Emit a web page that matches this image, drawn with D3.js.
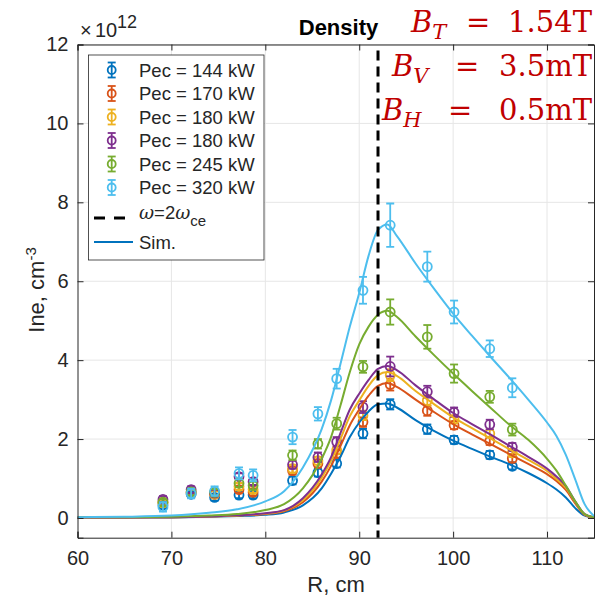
<!DOCTYPE html>
<html>
<head>
<meta charset="utf-8">
<script src="https://cdnjs.cloudflare.com/ajax/libs/d3/7.8.5/d3.min.js"></script>
<style>
  body { margin: 0; background: #fff; }
  svg { display: block; font-family: "Liberation Sans", Arial, sans-serif; }
</style>
</head>
<body>
<div id="chart"></div>
<script>
// measured points (R, cm)
var R_meas = [69.1, 72.1, 74.6, 77.2, 78.7, 82.9, 85.6, 87.6, 90.4, 93.3, 97.25, 100.1, 103.9, 106.3];

var labels = ["Pec = 144 kW", "Pec = 170 kW", "Pec = 180 kW", "Pec = 180 kW", "Pec = 245 kW", "Pec = 320 kW"];
var colors = ["#0072BD", "#D95319", "#EDB120", "#7E2F8E", "#77AC30", "#4DBEEE"];

var ne144 = [0.33, 0.60, 0.52, 0.58, 0.58, 0.95, 1.15, 1.38, 2.14, 2.88, 2.25, 1.98, 1.60, 1.31];
var ne170 = [0.40, 0.65, 0.60, 0.72, 0.65, 1.20, 1.38, 1.63, 2.43, 3.38, 2.72, 2.35, 1.95, 1.51];
var ne180a = [0.38, 0.63, 0.60, 0.80, 0.72, 1.25, 1.45, 1.72, 2.60, 3.62, 2.98, 2.50, 2.14, 1.65];
var ne180b = [0.47, 0.72, 0.63, 1.05, 0.92, 1.35, 1.54, 1.93, 2.81, 3.84, 3.20, 2.68, 2.37, 1.80];
var ne245 = [0.40, 0.66, 0.65, 0.88, 0.82, 1.59, 1.88, 2.39, 3.83, 5.22, 4.59, 3.66, 3.07, 2.24];
var ne320 = [0.28, 0.62, 0.68, 1.13, 1.08, 2.05, 2.64, 3.53, 5.77, 7.42, 6.37, 5.22, 4.29, 3.30];

var err144 = [0.08, 0.08, 0.08, 0.08, 0.08, 0.10, 0.10, 0.10, 0.12, 0.13, 0.12, 0.10, 0.10, 0.08];
var err170 = [0.08, 0.08, 0.08, 0.08, 0.08, 0.10, 0.10, 0.10, 0.12, 0.15, 0.13, 0.10, 0.10, 0.10];
var err180a = [0.08, 0.08, 0.08, 0.08, 0.08, 0.10, 0.10, 0.10, 0.12, 0.15, 0.13, 0.10, 0.10, 0.10];
var err180b = [0.08, 0.08, 0.08, 0.08, 0.08, 0.10, 0.12, 0.12, 0.15, 0.25, 0.15, 0.12, 0.12, 0.10];
var err245 = [0.08, 0.08, 0.08, 0.10, 0.10, 0.12, 0.12, 0.15, 0.15, 0.32, 0.30, 0.23, 0.15, 0.15];
var err320 = [0.12, 0.12, 0.12, 0.15, 0.15, 0.18, 0.17, 0.25, 0.34, 0.55, 0.38, 0.29, 0.21, 0.24];

// simulated profiles
var R_sim = [60, 65, 70, 74, 77, 80, 82, 84, 86, 87, 88, 89, 90, 91, 92, 93, 94, 96, 98, 100, 102, 104, 106, 108, 110, 111, 112, 113, 114, 115];
var sim144 = [0.01, 0.01, 0.015, 0.03, 0.05, 0.08, 0.14, 0.32, 0.75, 1.12, 1.55, 2.05, 2.42, 2.70, 2.88, 2.90, 2.80, 2.48, 2.20, 1.96, 1.75, 1.55, 1.36, 1.14, 0.88, 0.72, 0.52, 0.25, 0.06, 0.01];
var sim170 = [0.01, 0.015, 0.02, 0.035, 0.06, 0.10, 0.17, 0.40, 0.92, 1.32, 1.82, 2.35, 2.75, 3.10, 3.35, 3.42, 3.32, 3.00, 2.68, 2.38, 2.12, 1.87, 1.62, 1.37, 1.11, 0.94, 0.71, 0.37, 0.08, 0.01];
var sim180a = [0.01, 0.015, 0.02, 0.04, 0.065, 0.11, 0.19, 0.45, 1.02, 1.45, 2.00, 2.58, 2.98, 3.35, 3.62, 3.70, 3.60, 3.22, 2.88, 2.55, 2.28, 2.01, 1.74, 1.47, 1.19, 0.99, 0.77, 0.40, 0.09, 0.01];
var sim180b = [0.01, 0.015, 0.02, 0.04, 0.07, 0.12, 0.20, 0.50, 1.10, 1.54, 2.15, 2.75, 3.15, 3.50, 3.78, 3.85, 3.75, 3.36, 3.00, 2.66, 2.38, 2.11, 1.83, 1.55, 1.25, 1.05, 0.81, 0.42, 0.10, 0.02];
var sim245 = [0.02, 0.02, 0.03, 0.06, 0.10, 0.20, 0.35, 0.75, 1.50, 2.05, 2.85, 3.70, 4.40, 4.85, 5.15, 5.25, 5.10, 4.60, 4.12, 3.66, 3.22, 2.79, 2.36, 1.98, 1.50, 1.20, 0.82, 0.42, 0.10, 0.02];
var sim320 = [0.02, 0.03, 0.06, 0.13, 0.22, 0.42, 0.68, 1.28, 2.25, 2.98, 3.90, 4.85, 5.70, 6.65, 7.30, 7.44, 7.15, 6.45, 5.80, 5.18, 4.62, 4.08, 3.55, 3.00, 2.42, 2.08, 1.60, 0.98, 0.35, 0.05];

var R_res = 92; // omega = 2 omega_ce
var xTicks = [60, 70, 80, 90, 100, 110];
var yTicks = [0, 2, 4, 6, 8, 10, 12];

var meas = [ne144, ne170, ne180a, ne180b, ne245, ne320];
var errs = [err144, err170, err180a, err180b, err245, err320];
var sims = [sim144, sim170, sim180a, sim180b, sim245, sim320];

var W = 596, H = 598;
var ink = "#262626", red = "#C00000";
var serif = "'DejaVu Serif', 'Liberation Serif', serif";
var svg = d3.select("#chart").append("svg").attr("width", W).attr("height", H);

var x = d3.scaleLinear().domain([60, 115]).range([77.5, 594]);
var y = d3.scaleLinear().domain([-0.5, 12]).range([537.7, 44.5]);

// grid
var grid = svg.append("g").attr("stroke", "#e6e6e6").attr("stroke-width", 1);
grid.selectAll("line.gx").data(xTicks.slice(1)).enter().append("line")
  .attr("x1", d => x(d)).attr("x2", d => x(d)).attr("y1", y(-0.5)).attr("y2", y(12));
grid.selectAll("line.gy").data(yTicks).enter().append("line")
  .attr("y1", d => y(d)).attr("y2", d => y(d)).attr("x1", x(60)).attr("x2", x(115));

// clip
svg.append("clipPath").attr("id", "clip").append("rect")
  .attr("x", x(60)).attr("y", y(12)).attr("width", x(115) - x(60)).attr("height", y(-0.5) - y(12));
var plot = svg.append("g").attr("clip-path", "url(#clip)");

// error bars + markers
meas.forEach(function (vals, s) {
  var g = plot.append("g").attr("stroke", colors[s]).attr("stroke-width", 1.8).attr("fill", "none");
  vals.forEach(function (v, i) {
    var cx = x(R_meas[i]), e = errs[s][i];
    g.append("line").attr("x1", cx).attr("x2", cx).attr("y1", y(v - e)).attr("y2", y(v + e));
    g.append("line").attr("x1", cx - 4).attr("x2", cx + 4).attr("y1", y(v - e)).attr("y2", y(v - e));
    g.append("line").attr("x1", cx - 4).attr("x2", cx + 4).attr("y1", y(v + e)).attr("y2", y(v + e));
    g.append("circle").attr("cx", cx).attr("cy", y(v)).attr("r", 4.5);
  });
});

// simulation curves
var line = d3.line().x((d, i) => x(R_sim[i])).y(d => y(d)).curve(d3.curveMonotoneX);
sims.forEach(function (vals, s) {
  plot.append("path").attr("d", line(vals)).attr("fill", "none")
    .attr("stroke", colors[s]).attr("stroke-width", 2);
});

// resonance line
svg.append("line").attr("x1", x(R_res)).attr("x2", x(R_res)).attr("y1", y(11.85)).attr("y2", y(-0.5))
  .attr("stroke", "#000").attr("stroke-width", 3).attr("stroke-dasharray", "10,6");

// axes
var ax = svg.append("g");
ax.append("g").attr("transform", "translate(0," + y(-0.5) + ")")
  .call(d3.axisBottom(x).tickValues(xTicks).tickSize(-6).tickPadding(13));
ax.append("g").attr("transform", "translate(0," + y(12) + ")")
  .call(d3.axisTop(x).tickValues(xTicks).tickSize(-6).tickFormat(""));
ax.append("g").attr("transform", "translate(" + x(60) + ",0)")
  .call(d3.axisLeft(y).tickValues(yTicks).tickSize(-6).tickPadding(9));
ax.append("g").attr("transform", "translate(" + x(115) + ",0)")
  .call(d3.axisRight(y).tickValues(yTicks).tickSize(-6).tickFormat(""));
ax.selectAll("g").attr("font-size", 20).attr("font-family", "Liberation Sans, Arial, sans-serif");
ax.selectAll(".domain, .tick line").attr("stroke", ink).attr("stroke-width", 1);
ax.selectAll(".tick text").attr("fill", ink);

// labels
svg.append("text").attr("x", 336).attr("y", 592).attr("text-anchor", "middle").attr("font-size", 22)
  .attr("fill", ink).text("R, cm");
var yt = svg.append("text").attr("transform", "translate(44,290) rotate(-90)").attr("text-anchor", "middle")
  .attr("font-size", 22).attr("fill", ink);
yt.append("tspan").text("Ine, cm");
yt.append("tspan").attr("dy", -8).attr("font-size", 15).text("-3");

// exponent label
svg.append("text").attr("x", 80).attr("y", 37).attr("font-size", 20).attr("fill", ink).text("\u00d7");
svg.append("text").attr("x", 95).attr("y", 37).attr("font-size", 20).attr("fill", ink).text("10");
svg.append("text").attr("x", 117).attr("y", 28).attr("font-size", 18).attr("fill", ink).text("12");

svg.append("text").attr("x", 338.5).attr("y", 35).attr("text-anchor", "middle").attr("font-size", 22)
  .attr("font-weight", "bold").attr("fill", "#000").text("Density");

// field annotations
var fields = [
  { b: "T", v: "1.54T", bx: 411, eq: 466, base: 32 },
  { b: "V", v: "3.5mT", bx: 392, eq: 455, base: 76 },
  { b: "H", v: "0.5mT", bx: 382, eq: 448, base: 120 }
];
fields.forEach(function (f) {
  var t = svg.append("text").attr("x", f.bx).attr("y", f.base).attr("fill", red)
    .attr("font-family", serif).attr("font-size", 29);
  t.append("tspan").attr("font-style", "italic").text("B");
  t.append("tspan").attr("font-style", "italic").attr("font-size", 21).attr("dy", 7).text(f.b);
  svg.append("text").attr("x", f.eq).attr("y", f.base).attr("fill", red)
    .attr("font-family", serif).attr("font-size", 29).text("=");
  svg.append("text").attr("x", 592).attr("y", f.base).attr("text-anchor", "end").attr("fill", red)
    .attr("font-family", serif).attr("font-size", 29).text(f.v);
});

// legend
var lg = svg.append("g");
lg.append("rect").attr("x", 88.5).attr("y", 55).attr("width", 175.5).attr("height", 205)
  .attr("fill", "#fff").attr("stroke", ink).attr("stroke-width", 0.8);
var rowY = [70, 93.5, 117, 140.5, 164, 187.5];
labels.forEach(function (lab, s) {
  var cy = rowY[s], cx = 111.7;
  var g = lg.append("g").attr("stroke", colors[s]).attr("stroke-width", 1.8).attr("fill", "none");
  g.append("line").attr("x1", cx).attr("x2", cx).attr("y1", cy - 7.5).attr("y2", cy + 7.5);
  g.append("line").attr("x1", cx - 4).attr("x2", cx + 4).attr("y1", cy - 7.5).attr("y2", cy - 7.5);
  g.append("line").attr("x1", cx - 4).attr("x2", cx + 4).attr("y1", cy + 7.5).attr("y2", cy + 7.5);
  g.append("circle").attr("cx", cx).attr("cy", cy).attr("r", 4);
  lg.append("text").attr("x", 139).attr("y", cy + 6.5).attr("font-size", 18.5).attr("fill", ink).text(lab);
});
lg.append("line").attr("x1", 94).attr("x2", 126).attr("y1", 218).attr("y2", 218)
  .attr("stroke", "#000").attr("stroke-width", 3).attr("stroke-dasharray", "11,9");
var wt = lg.append("text").attr("x", 139).attr("y", 219).attr("font-size", 18.5).attr("fill", ink);
wt.append("tspan").attr("font-style", "italic").attr("font-family", serif).text("\u03c9");
wt.append("tspan").text("=2");
wt.append("tspan").attr("font-style", "italic").attr("font-family", serif).text("\u03c9");
wt.append("tspan").attr("dy", 7).attr("font-size", 15).text("ce");
lg.append("line").attr("x1", 94).attr("x2", 133).attr("y1", 242).attr("y2", 242)
  .attr("stroke", colors[0]).attr("stroke-width", 2);
lg.append("text").attr("x", 139).attr("y", 248.5).attr("font-size", 18.5).attr("fill", ink).text("Sim.");
</script>
</body>
</html>
